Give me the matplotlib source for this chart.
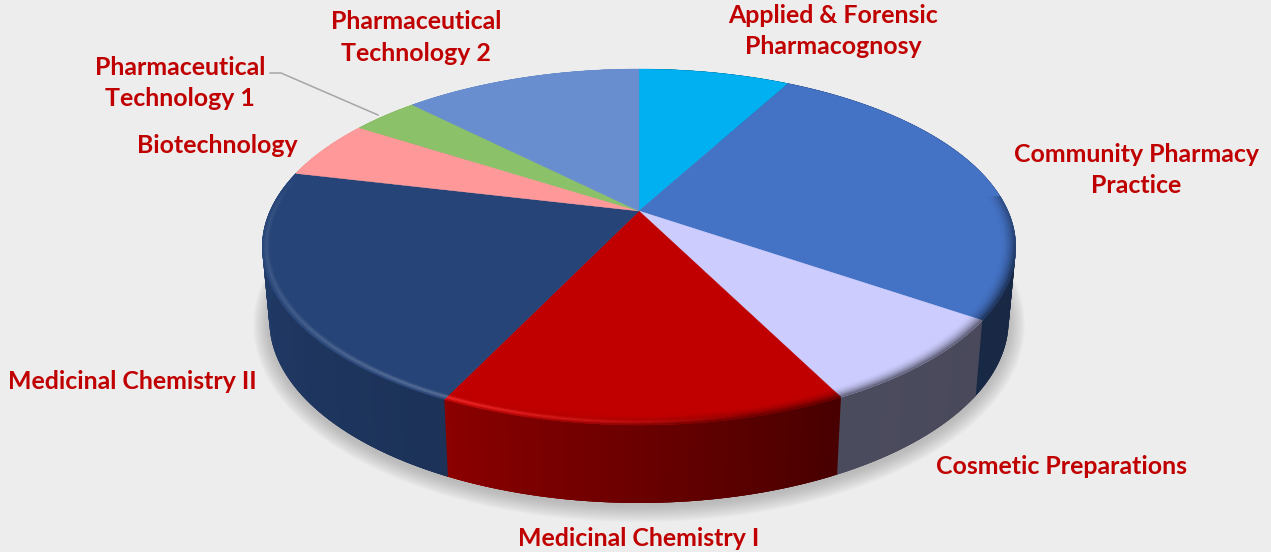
import matplotlib
matplotlib.use("Agg")
import matplotlib.pyplot as plt
import numpy as np
from matplotlib.collections import PolyCollection
from matplotlib.colors import to_rgb

# shares (percent, clockwise from 12 o'clock)
categories = ["Applied & Forensic\nPharmacognosy", "Community Pharmacy\nPractice", "Cosmetic Preparations",
              "Medicinal Chemistry I", "Medicinal Chemistry II", "Biotechnology",
              "Pharmaceutical\nTechnology 1", "Pharmaceutical\nTechnology 2"]
shares = [7.9, 26.7, 8.0, 14.5, 21.6, 5.4, 3.5, 12.4]
colors = ["#00B0F0", "#4472C4", "#CCCCFF", "#C00000", "#264478", "#FF9999", "#8BC168", "#698ED0"]
label_pos = [(833, 31), (1136, 170), (1061, 466.5), (639, 538.5), (132, 381.5), (217, 145.5), (180, 83), (416, 37.5)]

BG = "#EDEDED"
TEXT = "#C00000"
CX = 639
K = 0.2022
TOP = dict(a=369.0, y0=211.0, b=170.7)
BOTTOM = dict(a=362.0, y0=283.6, b=175.0)
RIM_IN = 0.96


def project(angle_deg, r, plane):
    # perspective view of a flat disc, angle clockwise from the back
    th = np.radians(angle_deg)
    x = r * np.sin(th)
    y = r * np.cos(th)
    w = 1 + K * y
    return CX + plane["a"] * x / w, plane["y0"] - plane["b"] * y / w


def arc(a0, a1, r, plane):
    n = max(int(abs(a1 - a0) * 2), 2)
    ang = np.linspace(a0, a1, n)
    return project(ang, r, plane)


def side_shade(angle):
    return np.interp(angle, [90, 153, 206, 285], [0.34, 0.37, 0.73, 0.92])


def rim_color(base, angle, t):
    base = np.array(to_rgb(base))
    dark = base * side_shade(angle)
    # right of the front: top face melts into the dark side
    w_dark = np.interp(angle, [85, 110, 175, 215], [0.5, 0.9, 0.9, 0.0]) * t ** 2
    # left of the front: a thin light line along the edge
    w_light = np.interp(angle, [165, 205, 240, 270, 285], [0.0, 0.5, 0.26, 0.14, 0.0])
    w_light *= np.exp(-((t - 0.75) / 0.16) ** 2)
    col = base * (1 - w_dark) + dark * w_dark
    if base[0] > 0.6 and base[1] < 0.1:
        return np.clip(col + (np.array([1.0, 0.2, 0.2]) - col) * w_light * 1.6, 0, 1)
    return np.clip(col + (np.array([1.0, 1.0, 1.0]) - col) * w_light * 0.5, 0, 1)


def main():
    fig = plt.figure(figsize=(12.71, 5.52), dpi=100, facecolor=BG)
    ax = fig.add_axes([0, 0, 1, 1])
    ax.set_xlim(0, 1271)
    ax.set_ylim(552, 0)
    ax.axis("off")

    edges = np.concatenate([[0], np.cumsum(shares)]) / np.sum(shares) * 360

    # soft shadow under the disc
    full = np.linspace(0, 360, 361)
    for grow in np.linspace(16, 0, 17):
        sx, sy = project(full, 1, BOTTOM)
        sx = CX + (sx - CX) * (1 + grow / 365)
        sy = 300 + (sy - 300) * (1 + grow / 200) + 3
        ax.fill(sx, sy, color="#8c8c8c", alpha=0.035, lw=0, zorder=1)

    # side wall: overlapping quads, painted in order so no seams show
    quads, quad_cols = [], []
    for i, col in enumerate(colors):
        base = np.array(to_rgb(col))
        steps = np.arange(edges[i], edges[i + 1] + 0.5, 0.5)
        steps[-1] = edges[i + 1]
        for a0, a1 in zip(steps[:-1], steps[1:]):
            a2 = a1 + 1.0
            xt, yt = project(np.array([a0, a2]), 1, TOP)
            xb, yb = project(np.array([a0, a2]), 1, BOTTOM)
            quads.append([(xt[0], yt[0]), (xt[1], yt[1]), (xb[1], yb[1]), (xb[0], yb[0])])
            quad_cols.append(base * side_shade((a0 + a1) / 2))
    ax.add_collection(PolyCollection(quads, facecolors=quad_cols, edgecolors="none", zorder=2))

    # top face
    for i, col in enumerate(colors):
        xs, ys = arc(edges[i], edges[i + 1], 1, TOP)
        xc, yc = project(0.0, 0.0, TOP)
        ax.fill(np.r_[xc, xs], np.r_[yc, ys], color=col, lw=0.3, zorder=3)

    # bevel along the outer edge
    rings = np.linspace(RIM_IN, 1.0, 11)
    quads, quad_cols = [], []
    for i, col in enumerate(colors):
        a_lo = max(edges[i], 85)
        a_hi = min(edges[i + 1], 290)
        if a_hi <= a_lo:
            continue
        steps = np.linspace(a_lo, a_hi, max(int((a_hi - a_lo) * 1.5), 2))
        for a0, a1 in zip(steps[:-1], steps[1:]):
            for r0, r1 in zip(rings[:-1], rings[1:]):
                xa, ya = project(np.array([a0, a1]), r0, TOP)
                xb, yb = project(np.array([a0, a1]), r1, TOP)
                quads.append([(xa[0], ya[0]), (xa[1], ya[1]), (xb[1], yb[1]), (xb[0], yb[0])])
                t = ((r0 + r1) / 2 - RIM_IN) / (1 - RIM_IN)
                quad_cols.append(rim_color(col, (a0 + a1) / 2, t))
    ax.add_collection(PolyCollection(quads, facecolors=quad_cols, edgecolors=quad_cols, linewidths=0.3, zorder=4))

    # leader line for the small slice
    ax.plot([270, 281, 378], [73, 73, 115], color="#A6A6A6", lw=1.1, zorder=5)

    for name, (x, y) in zip(categories, label_pos):
        ax.text(x, y, name, color=TEXT, fontsize=17.9, fontweight="bold", family=["Lato", "DejaVu Sans"],
                ha="center", va="center", linespacing=1.43, zorder=6)

    fig.savefig("out.png", dpi=100, facecolor=BG)


if __name__ == "__main__":
    main()
